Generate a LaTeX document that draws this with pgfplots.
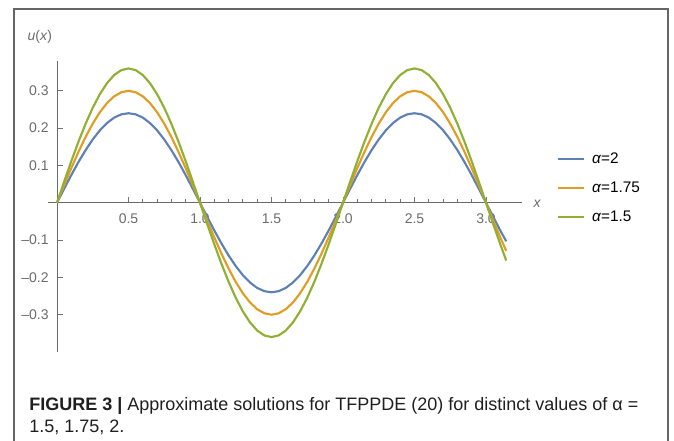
\documentclass[border=0pt]{standalone}
\usepackage{fontspec}
\setmainfont{Liberation Sans}
\usepackage{pgfplots}
\pgfplotsset{compat=1.18}
\usepackage{pgfplotstable}

\definecolor{mblue}{HTML}{5E81B5}
\definecolor{morange}{HTML}{E19C24}
\definecolor{mgreen}{HTML}{8FB032}
\definecolor{tickgray}{gray}{0.42}

% u(x) for alpha = 2 (a), 1.75 (b), 1.5 (c)
\pgfplotstableread{
x      a        b        c
0.00   0        0        0
0.05   0.0375   0.0469   0.0563
0.10   0.0742   0.0927   0.1112
0.15   0.1090   0.1362   0.1634
0.20   0.1411   0.1763   0.2116
0.25   0.1697   0.2121   0.2546
0.30   0.1942   0.2427   0.2912
0.35   0.2138   0.2673   0.3208
0.40   0.2283   0.2853   0.3424
0.45   0.2370   0.2963   0.3556
0.50   0.2400   0.3000   0.3600
0.55   0.2370   0.2963   0.3556
0.60   0.2283   0.2853   0.3424
0.65   0.2138   0.2673   0.3208
0.70   0.1942   0.2427   0.2912
0.75   0.1697   0.2121   0.2546
0.80   0.1411   0.1763   0.2116
0.85   0.1090   0.1362   0.1634
0.90   0.0742   0.0927   0.1112
0.95   0.0375   0.0469   0.0563
1.00   0        0        0
1.05  -0.0375  -0.0469  -0.0563
1.10  -0.0742  -0.0927  -0.1112
1.15  -0.1090  -0.1362  -0.1634
1.20  -0.1411  -0.1763  -0.2116
1.25  -0.1697  -0.2121  -0.2546
1.30  -0.1942  -0.2427  -0.2912
1.35  -0.2138  -0.2673  -0.3208
1.40  -0.2283  -0.2853  -0.3424
1.45  -0.2370  -0.2963  -0.3556
1.50  -0.2400  -0.3000  -0.3600
1.55  -0.2370  -0.2963  -0.3556
1.60  -0.2283  -0.2853  -0.3424
1.65  -0.2138  -0.2673  -0.3208
1.70  -0.1942  -0.2427  -0.2912
1.75  -0.1697  -0.2121  -0.2546
1.80  -0.1411  -0.1763  -0.2116
1.85  -0.1090  -0.1362  -0.1634
1.90  -0.0742  -0.0927  -0.1112
1.95  -0.0375  -0.0469  -0.0563
2.00   0        0        0
2.05   0.0375   0.0469   0.0563
2.10   0.0742   0.0927   0.1112
2.15   0.1090   0.1362   0.1634
2.20   0.1411   0.1763   0.2116
2.25   0.1697   0.2121   0.2546
2.30   0.1942   0.2427   0.2912
2.35   0.2138   0.2673   0.3208
2.40   0.2283   0.2853   0.3424
2.45   0.2370   0.2963   0.3556
2.50   0.2400   0.3000   0.3600
2.55   0.2370   0.2963   0.3556
2.60   0.2283   0.2853   0.3424
2.65   0.2138   0.2673   0.3208
2.70   0.1942   0.2427   0.2912
2.75   0.1697   0.2121   0.2546
2.80   0.1411   0.1763   0.2116
2.85   0.1090   0.1362   0.1634
2.90   0.0742   0.0927   0.1112
2.95   0.0375   0.0469   0.0563
3.00   0        0        0
3.05  -0.0375  -0.0469  -0.0563
3.10  -0.0742  -0.0927  -0.1112
3.1416 -0.1033  -0.1291  -0.1549
}\sol

\begin{document}
\begin{tikzpicture}
\useasboundingbox (0,0) rectangle (505.5pt,330.75pt);
% figure frame (open at the bottom, cut by the page)
\draw[black!60, line width=1pt] (10.5pt,-2pt) -- (10.5pt,324pt) -- (501pt,324pt) -- (501pt,-2pt);

\begin{axis}[
    at={(36.3pt,66.75pt)}, anchor=south west,
    scale only axis, width=355pt, height=218.25pt,
    xmin=-0.06, xmax=3.25, ymin=-0.40, ymax=0.38,
    axis lines=middle,
    axis line style={-, tickgray, line width=0.7pt},
    xtick={0.5,1,1.5,2,2.5,3},
    ytick={-0.3,-0.2,-0.1,0.1,0.2,0.3},
    yticklabels={--0.3,--0.2,--0.1,0.1,0.2,0.3},
    minor x tick num=4, minor y tick num=4,
    tick align=center,
    major tick length=4.5pt, minor tick length=2.6pt,
    tick style={black!55, line width=0.7pt},
    major x tick style={yshift=2.25pt}, minor x tick style={yshift=1.3pt},
    major y tick style={xshift=2.25pt}, minor y tick style={xshift=1.3pt},
    /pgf/number format/assume math mode=true,
    xticklabel style={font=\fontsize{10.5}{12}\selectfont, text=tickgray, yshift=-2.5pt,
        /pgf/number format/fixed, /pgf/number format/fixed zerofill, /pgf/number format/precision=1},
    yticklabel style={font=\fontsize{10.5}{12}\selectfont, text=tickgray, xshift=-0.5pt},
    xlabel={\textit{x}}, ylabel={\textit{u}(\textit{x})},
    x label style={at={(axis description cs:1.015,0.509)}, anchor=west,
        font=\fontsize{10.5}{12}\selectfont, text=tickgray},
    y label style={at={(axis description cs:-0.018,1.082)}, anchor=center,
        font=\fontsize{10.5}{12}\selectfont, text=tickgray},
    legend style={at={(1.065,0.705)}, anchor=north west, draw=none, fill=none,
        font=\fontsize{11.5}{13}\selectfont, row sep=8.5pt,
        nodes={inner xsep=5.5pt}},
    legend cell align=left,
    legend image code/.code={\draw[#1, line width=1.5pt] (0pt,0pt) -- (19.5pt,0pt);},
    every axis plot/.append style={line width=1.6pt, no markers},
    clip=false,
]
\addplot[mblue] table[x=x, y=a] {\sol};
\addlegendentry{\textit{α}=2}
\addplot[morange] table[x=x, y=b] {\sol};
\addlegendentry{\textit{α}=1.75}
\addplot[mgreen] table[x=x, y=c] {\sol};
\addlegendentry{\textit{α}=1.5}
\end{axis}

% caption
\node[anchor=base west, inner sep=0pt, font=\fontsize{13.5}{16.5}\selectfont, text=black!88]
  at (21.75pt,22.5pt) {\textbf{FIGURE 3 |} Approximate solutions for TFPPDE (20) for distinct values of α =};
\node[anchor=base west, inner sep=0pt, font=\fontsize{13.5}{16.5}\selectfont, text=black!88]
  at (21.75pt,6pt) {1.5, 1.75, 2.};
\end{tikzpicture}
\end{document}
